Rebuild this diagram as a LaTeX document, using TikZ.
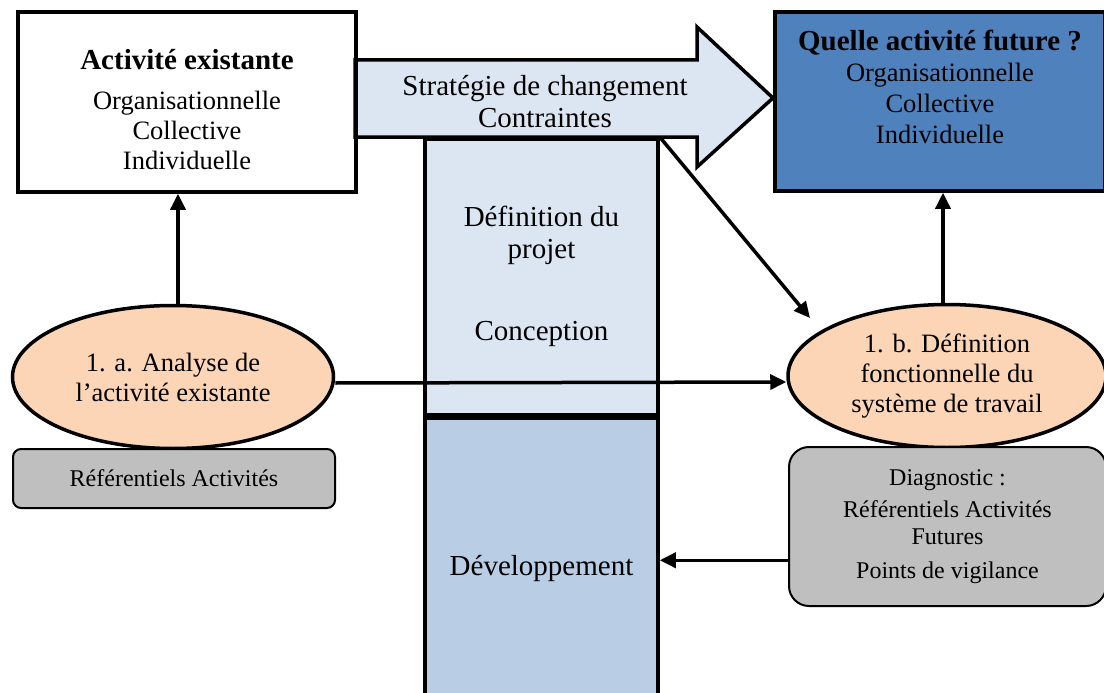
\documentclass[tikz,border=0pt]{standalone}
\usepackage{fontspec}
\setmainfont{Liberation Serif}
\usetikzlibrary{shapes,arrows,arrows.meta,positioning,calc}

\definecolor{palebleu}{HTML}{DCE6F2}
\definecolor{bleudev}{HTML}{B9CDE5}
\definecolor{bleufort}{HTML}{4F81BD}
\definecolor{peche}{HTML}{FBD5B5}
\definecolor{grisref}{HTML}{BFBFBF}

\newcommand{\grand}{\fontsize{29}{32}\selectfont}
\newcommand{\moyen}{\fontsize{26.5}{30}\selectfont}
\newcommand{\petit}{\fontsize{24}{27}\selectfont}

\begin{document}
\begin{tikzpicture}[
    x=1pt, y=-1pt,
    box/.style={rectangle, draw, line width=3.5pt, align=center, font=\moyen},
    ovale/.style={ellipse, draw, line width=3.5pt, fill=peche, align=center, font=\moyen, minimum width=321pt, minimum height=143pt, inner sep=0pt},
    refbox/.style={rectangle, draw, rounded corners=8pt, line width=2pt, fill=grisref, align=center, font=\petit},
    phase/.style={rectangle, draw, line width=3.5pt, minimum width=233pt, align=center, font=\grand},
    arrow/.style={->, >={Triangle[length=16pt,width=15pt]}, line width=3.5pt}
]
    \useasboundingbox (0,0) rectangle (1104,693);
    \clip (0,0) rectangle (1104,693);

    % colonne des phases du projet
    \node[phase, fill=palebleu, minimum height=276pt, anchor=north] (concep) at (541.5,137) {D\'efinition du\\projet\\[50pt]Conception};
    \node[phase, fill=bleudev, minimum height=300pt, anchor=north] (dev) at (concep.south) {D\'eveloppement};

    % grande fleche
    \draw[line width=3.5pt, fill=palebleu] (355,60) -- (697,60) -- (697,27) -- (773,98) -- (697,167) -- (697,137) -- (355,137) -- cycle;
    \node[font=\grand, align=center] (strat) at (545,101.5) {Strat\'egie de changement\\Contraintes};

    \node[box, minimum width=338pt, minimum height=180pt] (exist) at (187,102) {{\grand\bfseries\rule{0pt}{36pt}Activit\'e existante}\\[10pt]Organisationnelle\\Collective\\Individuelle};
    \node[box, fill=bleufort, minimum width=330pt, minimum height=179pt, font=\fontsize{26.5}{31}\selectfont] (futur) at (940,101.5) {{\grand\bfseries Quelle activit\'e future ?}\\Organisationnelle\\Collective\\Individuelle\\[-10pt]\strut};

    \node[ovale] (anal) at (173,377) {1. a. Analyse de\\l’activit\'e existante};
    \node[ovale, minimum width=318pt] (fonct) at (947,376) {1. b. D\'efinition\\fonctionnelle du\\syst\`eme de travail};

    \node[refbox, minimum width=322pt, minimum height=59pt] (refex) at (174,478.5) {R\'ef\'erentiels Activit\'es};
    \node[refbox, rounded corners=20pt, minimum width=317pt, minimum height=159pt] (diag) at (947.5,526.5) {Diagnostic :\\[5pt]R\'ef\'erentiels Activit\'es\\Futures\\[7pt]Points de vigilance};

    \coordinate (diagend) at (810,318);
    \coordinate (devin) at ([yshift=8pt]dev.east);

    \draw[arrow] ([xshift=5pt]anal.north) -- ([xshift=5pt]anal.north |- exist.south);
    \draw[arrow] ([xshift=-4pt]fonct.north) -- ([xshift=-4pt]fonct.north |- futur.south);
    \draw[arrow] ([yshift=-6pt]anal.east) -- ([yshift=-6pt]fonct.west);
    \draw[arrow] (concep.north east) -- (diagend);
    \draw[arrow] (diag.west |- devin) -- (devin);
\end{tikzpicture}
\end{document}
